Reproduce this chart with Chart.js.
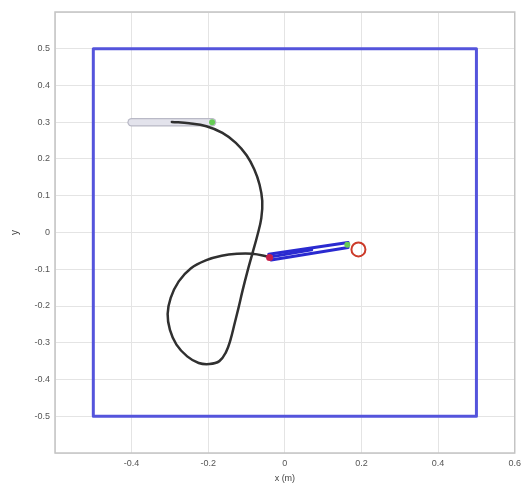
<!DOCTYPE html>
<html>
<head>
<meta charset="utf-8">
<script src="https://cdn.jsdelivr.net/npm/chart.js@4"></script>
<style>
html,body{margin:0;padding:0;background:#fff;}
#wrap{width:526px;height:485px;}
</style>
</head>
<body>
<div id="wrap"><canvas id="c" width="526" height="485"></canvas></div>
<script>
// ---- data ----
const xTicks = [-0.6, -0.4, -0.2, 0, 0.2, 0.4, 0.6];
const xTickLabels = ['', '-0.4', '-0.2', '0', '0.2', '0.4', '0.6'];
const yTicks = [-0.6, -0.5, -0.4, -0.3, -0.2, -0.1, 0, 0.1, 0.2, 0.3, 0.4, 0.5, 0.6];
const yTickLabels = ['', '-0.5', '-0.4', '-0.3', '-0.2', '-0.1', '0', '0.1', '0.2', '0.3', '0.4', '0.5', ''];

const boxX = [-0.5, 0.5, 0.5, -0.5, -0.5];
const boxY = [-0.5, -0.5, 0.5, 0.5, -0.5];

const pathX = [-0.295, -0.25, -0.205, -0.163, -0.128, -0.100, -0.080, -0.066, -0.059, -0.0615, -0.072, -0.085, -0.098, -0.110, -0.121, -0.131, -0.142, -0.154, -0.171, -0.197, -0.225, -0.255, -0.283, -0.300, -0.306, -0.298, -0.277, -0.245, -0.205, -0.165, -0.125, -0.085, -0.042];
const pathY = [0.301, 0.297, 0.289, 0.271, 0.244, 0.210, 0.172, 0.130, 0.086, 0.039, -0.009, -0.058, -0.107, -0.156, -0.205, -0.247, -0.292, -0.326, -0.350, -0.358, -0.355, -0.337, -0.305, -0.265, -0.222, -0.178, -0.133, -0.097, -0.075, -0.063, -0.058, -0.058, -0.066];

const rodX = [-0.4, -0.19];
const rodY = [0.3, 0.3];

const armUpperX = [-0.042, 0.165];
const armUpperY = [-0.059, -0.027];
const armLowerX = [-0.036, 0.165];
const armLowerY = [-0.075, -0.041];
const armMidX = [-0.04, 0.07];
const armMidY = [-0.067, -0.047];

const redDotX = [-0.04];
const redDotY = [-0.068];
const greenDotX = [0.163, -0.19];
const greenDotY = [-0.033, 0.3];
const targetX = [0.192];
const targetY = [-0.046];

function pts(xs, ys) { return xs.map((x, i) => ({x: x, y: ys[i]})); }

const frame = {
  id: 'frame',
  afterDatasetsDraw(chart) {
    const a = chart.chartArea, ctx = chart.ctx;
    ctx.save();
    ctx.strokeStyle = '#c4c4c4';
    ctx.lineWidth = 1.5;
    ctx.strokeRect(a.left, a.top, a.right - a.left, a.bottom - a.top);
    ctx.restore();
  }
};

const lineDs = (label, xs, ys, color, width, order) => ({
  label, data: pts(xs, ys), showLine: true, borderColor: color, borderWidth: width,
  pointRadius: 0, tension: 0, fill: false, order, borderCapStyle: 'round', borderJoinStyle: 'round'
});

new Chart(document.getElementById('c'), {
  type: 'scatter',
  data: {
    datasets: [
      {label: 'target', data: pts(targetX, targetY), pointRadius: 7, pointBorderWidth: 2, pointBorderColor: '#cc3b2a', pointBackgroundColor: 'rgba(255,255,255,0)', showLine: false, order: 0},
      {label: 'green', data: pts(greenDotX, greenDotY), pointRadius: 3, pointBorderWidth: 0, pointBackgroundColor: '#66cc55', showLine: false, order: 1},
      {label: 'red', data: pts(redDotX, redDotY), pointRadius: 3.5, pointBorderWidth: 0, pointBackgroundColor: '#c8204a', showLine: false, order: 1},
      lineDs('armU', armUpperX, armUpperY, '#2a2ad0', 3, 2),
      lineDs('armL', armLowerX, armLowerY, '#2a2ad0', 3, 2),
      lineDs('armM', armMidX, armMidY, '#2a2ad0', 3, 2),
      Object.assign(lineDs('path', pathX, pathY, '#303030', 2.5, 3), {tension: 0.4}),
      lineDs('rodIn', rodX, rodY, '#e3e3ec', 6, 4),
      lineDs('rodOut', rodX, rodY, '#b9b9c6', 8.5, 5),
      lineDs('box', boxX, boxY, '#5454dc', 3, 6)
    ]
  },
  options: {
    responsive: false,
    animation: false,
    layout: {padding: {top: 12, right: 9, left: 0, bottom: 0}},
    plugins: {legend: {display: false}, tooltip: {enabled: false}},
    scales: {
      x: {
        type: 'linear', min: -0.6, max: 0.6,
        afterBuildTicks: s => { s.ticks = xTicks.map(v => ({value: v})); },
        afterFit: s => { s.height = 32; },
        grid: {color: '#e4e4e4', lineWidth: 1, drawTicks: false},
        border: {display: false},
        ticks: {padding: 5, color: '#555', font: {family: 'Liberation Sans', size: 9},
          maxRotation: 0, autoSkip: false,
          callback: (v, i) => xTickLabels[i]},
        title: {display: true, text: 'x (m)', color: '#444', padding: 1, font: {family: 'Liberation Sans', size: 9}}
      },
      y: {
        type: 'linear', min: -0.6, max: 0.6,
        afterBuildTicks: s => { s.ticks = yTicks.map(v => ({value: v})); },
        afterFit: s => { s.width = 55; },
        grid: {color: '#e4e4e4', lineWidth: 1, drawTicks: false},
        border: {display: false},
        ticks: {padding: 5, color: '#555', font: {family: 'Liberation Sans', size: 9}, autoSkip: false,
          callback: (v, i) => yTickLabels[i]},
        title: {display: true, text: 'y', color: '#444', padding: 9, font: {family: 'Liberation Sans', size: 10}}
      }
    }
  },
  plugins: [frame]
});
</script>
</body>
</html>
